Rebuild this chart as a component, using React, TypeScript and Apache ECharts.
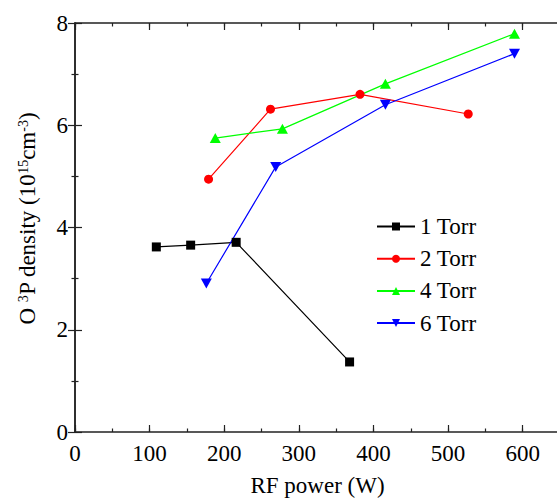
import React, { useEffect, useRef } from "react";
import * as echarts from "echarts";

const FONT = "Liberation Serif";

const seriesNames = ["1 Torr", "2 Torr", "4 Torr", "6 Torr"];
const torr1: [number, number][] = [[109, 3.62], [155, 3.655], [216, 3.71], [368, 1.37]];
const torr2: [number, number][] = [[179, 4.945], [262, 6.315], [382, 6.605], [527, 6.22]];
const torr4: [number, number][] = [[188, 5.75], [278, 5.93], [416, 6.81], [589, 7.79]];
const torr6: [number, number][] = [[176, 2.905], [269, 5.185], [416, 6.40], [589, 7.40]];
const colors = ["#000000", "#ff0000", "#00ff00", "#0000ff"];
const symbols = ["rect", "circle", "triangle", "path://M0,0 L10,0 L5,9 Z"];
const symbolSizes: (number | number[])[] = [9, 9, [11, 10], [11, 10]];

const xMin = 0;
const xMax = 650;
const yMin = 0;
const yMax = 8;

export default function App() {
  const ref = useRef<HTMLDivElement>(null);
  useEffect(() => {
    if (!ref.current) return;
    const chart = echarts.init(ref.current, null, { renderer: "svg" });
    const axisLine = { show: true, lineStyle: { color: "#222", width: 1.5 } };
    const data = [torr1, torr2, torr4, torr6];
    const baseX = (pos: "bottom" | "top", major: boolean, labels: boolean) => ({
      type: "value",
      position: pos,
      min: xMin,
      max: xMax,
      interval: major ? 100 : 50,
      axisLine: major ? axisLine : { show: false },
      axisTick: { show: true, inside: true, length: major ? 7 : 3.5, lineStyle: { color: "#222", width: 1.2 } },
      axisLabel: labels
        ? {
            show: true,
            margin: 10,
            color: "#000",
            fontSize: 23,
            fontFamily: FONT,
            formatter: (v: number) => (v % 100 === 0 ? String(v) : ""),
          }
        : { show: false },
      splitLine: { show: false },
      ...(labels
        ? {
            name: "RF power (W)",
            nameLocation: "middle",
            nameGap: 42,
            nameTextStyle: { color: "#000", fontSize: 23, fontFamily: FONT },
          }
        : {}),
    });
    const baseY = (pos: "left" | "right", labels: boolean) => ({
      type: "value",
      position: pos,
      min: yMin,
      max: yMax,
      interval: 2,
      axisLine,
      axisTick: { show: true, inside: true, length: 7, lineStyle: { color: "#222", width: 1.2 } },
      minorTick: { show: true, splitNumber: 2, length: 3.5, lineStyle: { color: "#222", width: 1.2 } },
      axisLabel: labels
        ? { show: true, margin: 7, color: "#000", fontSize: 23, fontFamily: FONT }
        : { show: false },
      splitLine: { show: false },
      ...(labels
        ? {
            name: "O {sup|3}P density (10{sup|15}cm{sup|-3})",
            nameLocation: "middle",
            nameGap: 36,
            nameTextStyle: {
              color: "#000",
              fontSize: 23,
              fontFamily: FONT,
              padding: [0, 0, 0, 18],
              rich: {
                sup: { fontSize: 14, fontFamily: FONT, color: "#000", verticalAlign: "top", lineHeight: 23 },
              },
            },
          }
        : {}),
    });
    chart.setOption({
      animation: false,
      backgroundColor: "#ffffff",
      grid: { left: 75, top: 23, right: 0.5, bottom: 66, containLabel: false },
      xAxis: [
        baseX("bottom", true, true),
        baseX("bottom", false, false),
        baseX("top", true, false),
        baseX("top", false, false),
      ],
      yAxis: [baseY("left", true), baseY("right", false)],
      legend: {
        orient: "vertical",
        left: 371,
        top: 210,
        itemWidth: 38,
        itemHeight: 10,
        itemGap: 9.2,
        textStyle: { color: "#000", fontSize: 23, fontFamily: FONT },
        data: seriesNames,
      },
      series: seriesNames.map((name, i) => ({
        name,
        type: "line",
        xAxisIndex: 0,
        yAxisIndex: 0,
        data: data[i],
        symbol: symbols[i],
        symbolSize: symbolSizes[i],
        showSymbol: true,
        itemStyle: { color: colors[i] },
        lineStyle: { color: colors[i], width: 1.2 },
      })),
    });
    return () => chart.dispose();
  }, []);
  return (
    <div
      style={{ position: "fixed", left: 0, top: 0, width: 557, height: 502, overflow: "hidden", background: "#fff" }}
    >
      <div ref={ref} style={{ width: 563, height: 502 }} />
    </div>
  );
}
